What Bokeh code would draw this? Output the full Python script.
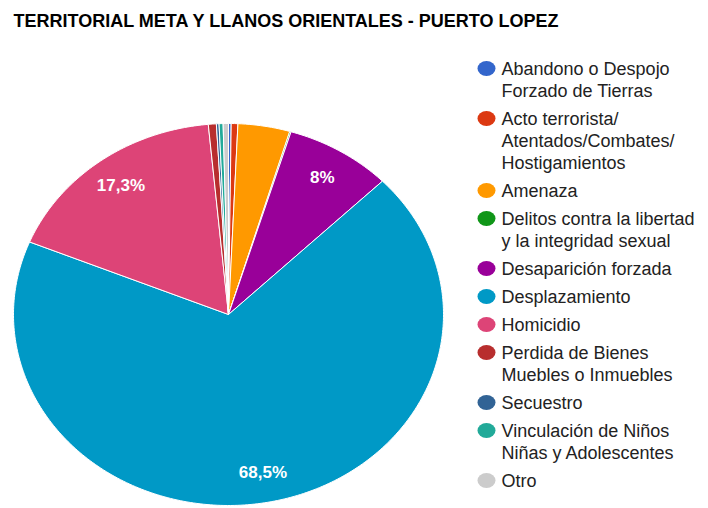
import math
import numpy as np
from bokeh.plotting import figure
from bokeh.models import Range1d
from bokeh.core.properties import value
from bokeh.embed import file_html
from bokeh.resources import INLINE

title_text = "TERRITORIAL META Y LLANOS ORIENTALES - PUERTO LOPEZ"
categories = [
    "Abandono o Despojo\nForzado de Tierras",
    "Acto terrorista/\nAtentados/Combates/\nHostigamientos",
    "Amenaza",
    "Delitos contra la libertad\ny la integridad sexual",
    "Desaparición forzada",
    "Desplazamiento",
    "Homicidio",
    "Perdida de Bienes\nMuebles o Inmuebles",
    "Secuestro",
    "Vinculación de Niños\nNiñas y Adolescentes",
    "Otro",
]
percentages = [0.2, 0.5, 3.9, 0.1, 8.0, 68.5, 17.3, 0.6, 0.2, 0.3, 0.4]
colors = ["#3366cc", "#dc3912", "#ff9900", "#109618", "#990099", "#0099c6",
          "#dd4477", "#b82e2e", "#316395", "#22aa99", "#cccccc"]

W, H = 708, 508
p = figure(width=W, height=H, output_backend="svg", toolbar_location=None,
           x_range=Range1d(0, W), y_range=Range1d(H, 0), min_border=0)
p.axis.visible = False
p.grid.visible = False
p.outline_line_color = None
p.background_fill_color = "white"

# pie geometry (pixel-like data space)
cx, cy, rx, ry = 228, 314, 215, 191
total = sum(percentages)
cum = 0.0
xs, ys = [], []
lab_x, lab_y, lab_t = [], [], []
for v in percentages:
    a0 = cum / total
    cum += v
    a1 = cum / total
    n = max(3, int((a1 - a0) * 400))
    t = np.linspace(a0, a1, n) * 2 * math.pi
    px = [cx] + list(cx + rx * np.sin(t)) + [cx]
    py = [cy] + list(cy - ry * np.cos(t)) + [cy]
    xs.append(px)
    ys.append(py)
    if v / total >= 0.05:
        am = (a0 + a1) / 2 * 2 * math.pi
        lab_x.append(cx + 0.84 * rx * math.sin(am))
        lab_y.append(cy - 0.84 * ry * math.cos(am))
        s = ("%.1f" % v).rstrip("0").rstrip(".").replace(".", ",")
        lab_t.append(s + "%")

p.patches(xs=xs, ys=ys, fill_color=colors, line_color="white", line_width=1)
p.text(x=lab_x, y=lab_y, text=lab_t, text_color="white",
       text_font=value("Liberation Sans"), text_font_size="17px",
       text_font_style="bold", text_align="center", text_baseline="middle")

# title
p.text(x=[13], y=[20], text=[title_text], text_color="#000000",
       text_font=value("Liberation Sans"), text_font_size="18px",
       text_font_style="bold", text_align="left", text_baseline="middle")

# legend
mx, tx = 486, 501
y = 68
m_x, m_y, m_c = [], [], []
l_x, l_y, l_t = [], [], []
for cat, col in zip(categories, colors):
    lines = cat.split("\n")
    m_x.append(mx)
    m_y.append(y)
    m_c.append(col)
    for i, ln in enumerate(lines):
        l_x.append(tx)
        l_y.append(y + 22 * i)
        l_t.append(ln)
    y += 22 * len(lines) + 6

p.ellipse(x=m_x, y=m_y, width=18, height=15, fill_color=m_c, line_color=None)
p.text(x=l_x, y=l_y, text=l_t, text_color="#222222",
       text_font=value("Liberation Sans"), text_font_size="18px",
       text_align="left", text_baseline="middle")

open("out.html", "w").write(file_html(p, INLINE))
